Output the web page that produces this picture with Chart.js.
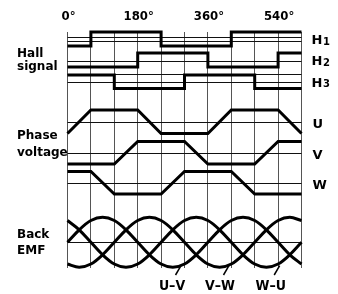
<!DOCTYPE html>
<html>
<head>
<meta charset="utf-8">
<script src="https://cdn.jsdelivr.net/npm/chart.js@4.4.1/dist/chart.umd.min.js"></script>
<style>
  html, body { margin: 0; padding: 0; background: #fff; }
  #wrap { width: 338px; height: 294px; }
</style>
</head>
<body>
<div id="wrap"><canvas id="timingChart"></canvas></div>
<script>
// electrical angle, one grid step every 60 degrees
const angles = [0, 60, 120, 180, 240, 300, 360, 420, 480, 540, 600];
const angleTicks = [0, 180, 360, 540];

// hall sensor state for each 60° sector (1 = high)
const hall1 = [0, 1, 1, 1, 0, 0, 0, 1, 1, 1];
const hall2 = [0, 0, 0, 1, 1, 1, 0, 0, 0, 1];
const hall3 = [1, 1, 0, 0, 0, 1, 1, 1, 0, 0];

// phase voltage level at each 60° corner (trapezoid)
const phaseU = [0, 1, 1, 1, 0, 0, 0, 1, 1, 1, 0];
const phaseV = [0, 0, 0, 1, 1, 1, 0, 0, 0, 1, 1];
const phaseW = [1, 1, 0, 0, 0, 1, 1, 1, 0, 0, 0];

// back EMF, read every 30 degrees
const emfAngles = [0, 30, 60, 90, 120, 150, 180, 210, 240, 270, 300, 330, 360, 390, 420, 450, 480, 510, 540, 570, 600];
const emfA = [0, 0.5, 0.87, 1, 0.87, 0.5, 0, -0.5, -0.87, -1, -0.87, -0.5, 0, 0.5, 0.87, 1, 0.87, 0.5, 0, -0.5, -0.87];
const emfB = [-0.87, -1, -0.87, -0.5, 0, 0.5, 0.87, 1, 0.87, 0.5, 0, -0.5, -0.87, -1, -0.87, -0.5, 0, 0.5, 0.87, 1, 0.87];
const emfC = [0.87, 0.5, 0, -0.5, -0.87, -1, -0.87, -0.5, 0, 0.5, 0.87, 1, 0.87, 0.5, 0, -0.5, -0.87, -1, -0.87, -0.5, 0];
const emfTags = ['U–V', 'V–W', 'W–U'];
const emfTagAngles = [268, 391, 521];

// vertical layout of each trace (base, height) on the y axis
const traceRows = {
    h1: [222, 14], h2: [201, 14], h3: [179.5, 13.5],
    u: [134.5, 23.5], v: [104, 22.5], w: [74, 22.5],
    emf: [25.7, 25]
};
const thinLines = [231, 227, 207, 194, 186, 146, 115.5, 85, 25.7];

function stepPoints(states, row) {
    const pts = states.map((s, i) => ({ x: angles[i], y: row[0] + s * row[1] }));
    pts.push({ x: angles[angles.length - 1], y: row[0] + states[states.length - 1] * row[1] });
    return pts;
}
function cornerPoints(levels, row) {
    return levels.map((s, i) => ({ x: angles[i], y: row[0] + s * row[1] }));
}
function emfPoints(vals) {
    return vals.map((s, i) => ({ x: emfAngles[i], y: traceRows.emf[0] + s * traceRows.emf[1] }));
}

const thick = { borderColor: '#000', borderWidth: 3, pointRadius: 0, fill: false, clip: false };

const labelPlugin = {
    id: 'timingLabels',
    beforeDatasetsDraw(chart) {
        const { ctx, chartArea, scales } = chart;
        ctx.save();
        ctx.strokeStyle = '#111';
        ctx.lineWidth = 1;
        thinLines.forEach(v => {
            const y = Math.round(scales.y.getPixelForValue(v)) + 0.5;
            ctx.beginPath();
            ctx.moveTo(chartArea.left, y);
            ctx.lineTo(chartArea.right, y);
            ctx.stroke();
        });
        ctx.restore();
    },
    afterDatasetsDraw(chart) {
        const { ctx, chartArea, scales } = chart;
        ctx.save();
        ctx.fillStyle = '#000';
        ctx.textBaseline = 'middle';

        // angle labels along the top
        ctx.textAlign = 'center';
        ctx.font = 'bold 13px "Liberation Sans Narrow", "DejaVu Sans Condensed", sans-serif';
        angleTicks.forEach(a => ctx.fillText(a + '°', scales.x.getPixelForValue(a) + 1, 17));

        ctx.textAlign = 'left';
        ctx.font = 'bold 12px "DejaVu Sans"';
        [['Hall', 54], ['signal', 67], ['Phase', 136], ['voltage', 153], ['Back', 235], ['EMF', 251]]
            .forEach(t => ctx.fillText(t[0], 17, t[1]));

        const rx = chartArea.right + 10;
        [['h1', '1'], ['h2', '2'], ['h3', '3']].forEach(t => {
            const row = traceRows[t[0]];
            const y = scales.y.getPixelForValue(row[0] + row[1] / 2) + 2;
            ctx.font = 'bold 13px "DejaVu Sans"';
            ctx.fillText('H', rx, y);
            const w = ctx.measureText('H').width;
            ctx.font = 'bold 10px "DejaVu Sans"';
            ctx.fillText(t[1], rx + w + 0.5, y + 1);
        });
        ctx.font = 'bold 13px "DejaVu Sans"';
        [['u', 'U'], ['v', 'V'], ['w', 'W']].forEach(t => {
            const row = traceRows[t[0]];
            ctx.fillText(t[1], rx + 1, scales.y.getPixelForValue(row[0] + row[1] / 2) + 3);
        });

        // back EMF line-to-line tags with pointers
        ctx.textAlign = 'center';
        ctx.font = 'bold 14px "Liberation Sans Narrow", "DejaVu Sans Condensed", sans-serif';
        ctx.lineWidth = 1.5;
        ctx.strokeStyle = '#000';
        emfTagAngles.forEach((a, i) => {
            const x = scales.x.getPixelForValue(a);
            ctx.fillText(emfTags[i], x, chartArea.bottom + 18);
            ctx.beginPath();
            ctx.moveTo(scales.x.getPixelForValue(a + 9), chartArea.bottom + 7);
            ctx.lineTo(scales.x.getPixelForValue(a + 23), scales.y.getPixelForValue(traceRows.emf[0] - 0.93 * traceRows.emf[1]));
            ctx.stroke();
        });
        ctx.restore();
    }
};

new Chart(document.getElementById('timingChart'), {
    type: 'line',
    data: {
        datasets: [
            { ...thick, data: stepPoints(hall1, traceRows.h1), stepped: 'before' },
            { ...thick, data: stepPoints(hall2, traceRows.h2), stepped: 'before' },
            { ...thick, data: stepPoints(hall3, traceRows.h3), stepped: 'before' },
            { ...thick, data: cornerPoints(phaseU, traceRows.u) },
            { ...thick, data: cornerPoints(phaseV, traceRows.v) },
            { ...thick, data: cornerPoints(phaseW, traceRows.w) },
            { ...thick, data: emfPoints(emfA), cubicInterpolationMode: 'monotone' },
            { ...thick, data: emfPoints(emfB), cubicInterpolationMode: 'monotone' },
            { ...thick, data: emfPoints(emfC), cubicInterpolationMode: 'monotone' }
        ]
    },
    options: {
        responsive: true,
        maintainAspectRatio: false,
        animation: false,
        layout: { padding: { left: 67.5, right: 36.5, top: 32, bottom: 26 } },
        plugins: { legend: { display: false }, tooltip: { enabled: false } },
        scales: {
            x: {
                type: 'linear',
                position: 'bottom',
                min: 0,
                max: 600,
                border: { display: false },
                grid: { color: '#555', lineWidth: 1, drawTicks: false },
                ticks: { display: false, stepSize: 60, autoSkip: false }
            },
            y: { type: 'linear', display: false, min: 0, max: 236 }
        }
    },
    plugins: [labelPlugin]
});
</script>
</body>
</html>
